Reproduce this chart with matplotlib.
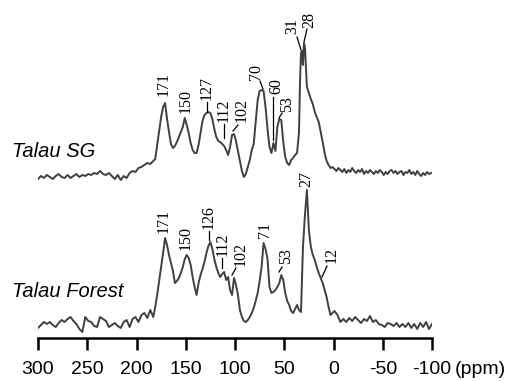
import matplotlib
matplotlib.use('Agg')
import matplotlib.pyplot as plt

# chemical shift axis
tick_vals = [300, 250, 200, 150, 100, 50, 0, -50, -100]
tick_labels = ['300', '250', '200', '150', '100', '50', '0', '-50', '-100']

# Talau SG spectrum (ppm, intensity above baseline)
sg_ppm = [300, 297, 294, 291, 288, 285, 282, 279, 276, 273,
          270, 267, 264, 261, 258, 255, 252, 249, 246, 243,
          240, 237, 234, 231, 228, 225, 222, 219, 216, 213,
          210, 207, 204, 201, 198, 195, 192, 189, 186, 183,
          181, 179, 177, 175, 173, 171, 169, 167, 165, 163,
          161, 159, 157, 155, 153, 151, 149, 147, 145, 143,
          141, 139, 137, 135, 133, 131, 129, 127, 125, 123,
          121, 119, 117, 115, 113, 111, 109, 107, 105, 103,
          101, 99, 97, 95, 93, 91, 89, 87, 85, 83,
          81, 79, 77, 75, 73, 71, 69, 67, 65, 63,
          61, 59, 57, 55, 53, 51, 49, 47, 45, 43,
          41, 39, 37, 35,
          34, 33, 32, 31, 30, 29, 28, 27,
          25, 23, 21, 19, 17, 15, 13, 11, 9, 7, 5, 3, 1,
          -1, -3, -5, -7, -9, -11, -13, -15, -17, -19,
          -21, -23, -25, -27, -29, -31, -33, -35, -37, -39,
          -41, -43, -45, -47, -49, -51, -53, -55, -57, -59,
          -61, -63, -65, -67, -69, -71, -73, -75, -77, -79,
          -81, -83, -85, -87, -89, -91, -93, -95, -97, -99]
sg_int = [-2, 1, -1, 2, 0, -2, 1, 3, 0, -1,
          2, -1, 1, 3, 0, 2, 1, 3, 2, 4,
          3, 6, 3, 2, 4, 1, -2, 2, -3, 1,
          -1, 4, 6, 5, 9, 10, 12, 14, 13, 16,
          18, 32, 46, 60, 70, 74, 58, 45, 33, 29,
          31, 35, 40, 45, 50, 59, 52, 44, 34, 27,
          24, 24, 32, 44, 56, 62, 64, 65, 64, 58,
          48, 40, 36, 35, 33, 31, 27, 22, 30, 42,
          43, 36, 26, 16, 6, 0, 3, 10, 17, 27,
          33, 55, 77, 86, 87, 86, 70, 48, 30, 24,
          34, 26, 50, 58, 57, 35, 20, 14, 12, 17,
          19, 22, 24, 45,
          95, 124, 126, 112, 134, 130, 110, 90,
          84, 78, 73, 65, 60, 55, 45, 35, 24, 16, 12, 9, 10,
          8, 6, 9, 7, 5, 8, 4, 7, 5, 9,
          6, 4, 7, 5, 8, 3, 6, 4, 7, 5,
          3, 6, 4, 7, 5, 2, 5, 3, 6, 7,
          4, 6, 3, 5, 6, 2, 5, 4, 7, 3,
          5, 2, 6, 3, 1, 4, 2, 5, 3, 4]

# Talau Forest spectrum
fo_ppm = [300, 297, 294, 291, 288, 285, 282, 279, 276, 273,
          270, 267, 264, 261, 258, 255, 252, 249, 246, 243,
          240, 237, 234, 231, 228, 225, 222, 219, 216, 213,
          210, 207, 204, 201, 198, 195, 192, 189, 186, 183,
          181, 179, 177, 175, 173, 171, 169, 167, 165, 163,
          161, 159, 157, 155, 153, 151, 149, 147, 145, 143,
          141, 139, 137, 135, 133, 131, 129, 127, 125, 123,
          121, 119, 117, 115, 113, 111, 109, 107, 105, 103,
          101, 99, 97, 95, 93, 91, 89, 87, 85, 83,
          81, 79, 77, 75, 73, 71, 69, 67, 65, 63,
          61, 59, 57, 55, 53, 51, 49, 47, 45, 43,
          41, 39, 37, 35, 33, 31, 29, 27, 25, 23,
          21, 19, 17, 15, 13, 11, 9, 7, 5, 3,
          1, -1,
          -4, -7, -10, -13, -16, -19, -22, -25, -28, -31,
          -34, -37, -40, -43, -46, -49, -52, -55, -58, -61,
          -64, -67, -70, -73, -76, -79, -82, -85, -88, -91,
          -94, -97, -100]
fo_int = [-3, 0, 3, 1, 3, 0, -2, 2, 5, 3,
          6, 8, 4, 1, -4, -7, 8, 4, 3, -1,
          -2, 8, 6, 4, -2, 0, 2, -1, -3, 3,
          5, -2, 6, 8, 3, 10, 12, 7, 15, 8,
          18, 30, 44, 58, 72, 87, 80, 70, 62, 54,
          42, 44, 47, 52, 58, 66, 70, 67, 60, 48,
          38, 30, 42, 50, 56, 63, 72, 79, 83, 76,
          66, 58, 52, 48, 51, 53, 45, 48, 35, 30,
          47, 40, 30, 15, 8, 4, 3, 5, 8, 12,
          17, 24, 32, 44, 58, 82, 76, 66, 38, 32,
          33, 35, 38, 42, 50, 45, 32, 24, 20, 14,
          12, 16, 20, 15, 13, 78, 110, 135, 95, 78,
          70, 65, 58, 52, 47, 42, 35, 28, 18, 10,
          12, 14,
          10, 3, 6, 3, 7, 4, 8, 5, 2, 6,
          4, 9, 3, 5, 1, 0, -2, 2, 1, -1,
          2, -2, 1, -2, 2, -3, 1, -4, 2, -2,
          3, -4, 1]

# peak labels: text, centre x (px), bottom y (px), leader segment in px
sg_labels = [('171', 164, 96, None),
             ('150', 186, 113, None),
             ('127', 207, 100, ((207, 102), (207, 112))),
             ('112', 224, 122, ((224, 124), (224, 138))),
             ('102', 242, 122, ((238, 125), (233, 131))),
             ('70', 256, 80, ((260, 81), (263, 89))),
             ('60', 276, 94, ((273, 97), (273, 140))),
             ('53', 287, 112, ((282, 113), (279, 118))),
             ('31', 292, 34, ((297, 37), (301, 50))),
             ('28', 309, 28, ((307, 29), (304, 42)))]
fo_labels = [('171', 164, 233, None),
             ('150', 186, 250, None),
             ('126', 209, 229, ((209, 231), (209, 240))),
             ('112', 223, 256, ((222, 258), (222, 268))),
             ('102', 241, 266, ((236, 268), (232, 275))),
             ('71', 265, 238, None),
             ('53', 286, 264, ((282, 267), (279, 272))),
             ('27', 306, 187, None),
             ('12', 332, 263, ((327, 266), (322, 277)))]

W, H = 513, 381
fig = plt.figure(figsize=(W / 100, H / 100), dpi=100)
ax = fig.add_axes([38 / W, 43 / H, 394 / W, 338 / H])
ax.set_xlim(300, -100)
ax.set_ylim(0, 338)


def px_x(px):
    return 300 - (px - 38) * 400 / 394


def px_y(py):
    return 338 - py


line_col = '#404040'
sg_off = 161
fo_off = 13
ax.plot(sg_ppm, [v + sg_off for v in sg_int], color=line_col, lw=1.4)
ax.plot(fo_ppm, [v + fo_off for v in fo_int], color=line_col, lw=1.4)

for labels in (sg_labels, fo_labels):
    for txt, cx, by, lead in labels:
        ax.text(px_x(cx), px_y(by), txt, rotation=90, ha='center', va='bottom',
                fontsize=11.5, family='Liberation Serif', color='black')
        if lead is not None:
            (x1, y1), (x2, y2) = lead
            ax.plot([px_x(x1), px_x(x2)], [px_y(y1), px_y(y2)],
                    color='black', lw=0.9)

ax.set_xticks(tick_vals)
ax.set_xticklabels(tick_labels, fontsize=14, family='Liberation Sans')
ax.set_yticks([])
ax.tick_params(axis='x', direction='out', length=8.5, width=1.8, pad=8)
for s in ('top', 'left', 'right'):
    ax.spines[s].set_visible(False)
ax.spines['bottom'].set_linewidth(1.8)

fig.text(12 / W, (H - 157) / H, 'Talau SG', fontsize=14.5, style='italic',
         family='Liberation Sans', va='baseline')
fig.text(12 / W, (H - 297) / H, 'Talau Forest', fontsize=14.5, style='italic',
         family='Liberation Sans', va='baseline')
fig.text(455 / W, (H - 369) / H, '(ppm)', fontsize=14,
         family='Liberation Sans', va='center')

fig.savefig('out.png', dpi=100)
